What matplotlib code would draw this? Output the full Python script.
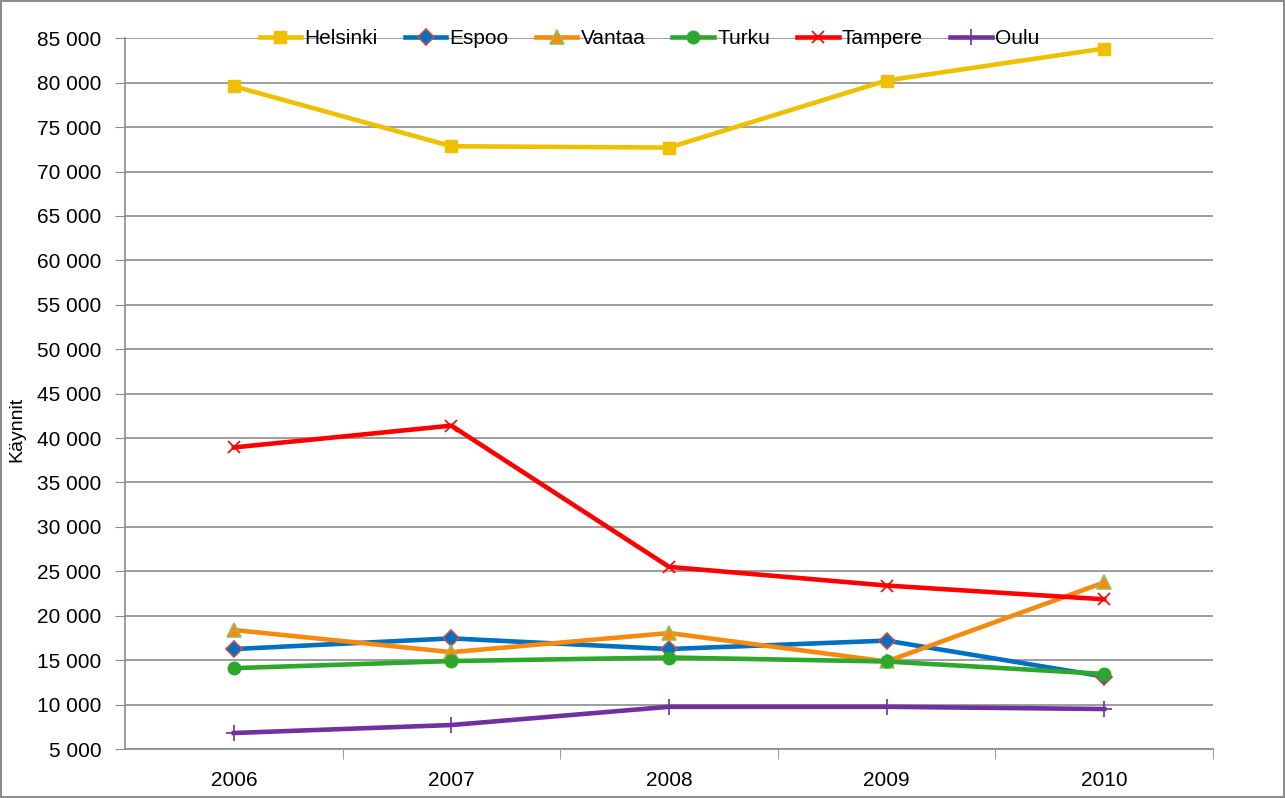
import matplotlib.pyplot as plt
from matplotlib.ticker import FuncFormatter, FixedLocator

plt.rcParams['font.family'] = ['Liberation Sans', 'DejaVu Sans']

years = ["2006", "2007", "2008", "2009", "2010"]
helsinki = [79600, 72850, 72700, 80250, 83850]
espoo = [16250, 17450, 16250, 17200, 13150]
vantaa = [18400, 15900, 18050, 14850, 23750]
turku = [14100, 14900, 15300, 14850, 13450]
tampere = [38950, 41400, 25500, 23400, 21850]
oulu = [6800, 7700, 9750, 9750, 9500]

series = [
    ("Helsinki", helsinki, "#EEC000", "s", "#EEC000", "#EEC000", 9, 1),
    ("Espoo", espoo, "#0070C0", "D", "#0070C0", "#C0504D", 8, 1.2),
    ("Vantaa", vantaa, "#F58A0F", "^", "#F58A0F", "#9BBB59", 10, 1.2),
    ("Turku", turku, "#2DA82D", "o", "#2DA82D", "#2DA82D", 9, 1),
    ("Tampere", tampere, "#FF0000", "x", "#FF0000", "#FF0000", 9, 1.2),
    ("Oulu", oulu, "#7030A0", "+", "#7030A0", "#7030A0", 11, 1.2),
]

fig = plt.figure(figsize=(12.85, 7.98), dpi=100)
fig.patch.set_edgecolor("#8C8C8C")
fig.patch.set_linewidth(1.5)
ax = fig.add_axes([0.0973, 0.0614, 0.8467, 0.8906])

x = range(len(years))
for name, vals, col, mk, fc, ec, ms, mew in series:
    ax.plot(x, vals, color=col, lw=3.3, marker=mk, markerfacecolor=fc,
            markeredgecolor=ec, markersize=ms, markeredgewidth=mew,
            label=name, zorder=3)

ax.set_xlim(-0.5, 4.5)
ax.set_ylim(5000, 85000)
ax.set_yticks(range(5000, 85001, 5000))
ax.yaxis.set_major_formatter(FuncFormatter(lambda v, p: f"{int(v):,}".replace(",", " ")))
ax.set_xticks(list(x))
ax.set_xticklabels(years)
ax.xaxis.set_minor_locator(FixedLocator([0.5, 1.5, 2.5, 3.5, 4.5]))
ax.tick_params(axis="x", which="major", length=0, labelsize=15, pad=16)
ax.tick_params(axis="x", which="minor", length=7, color="#8C8C8C", direction="out")
ax.tick_params(axis="y", length=7, color="#8C8C8C", labelsize=15, pad=10)

ax.grid(axis="y", color="#8C8C8C", lw=1.2)
ax.set_axisbelow(True)
for s in ["top", "right"]:
    ax.spines[s].set_visible(False)
for s in ["left", "bottom"]:
    ax.spines[s].set_color("#8C8C8C")
    ax.spines[s].set_linewidth(1.2)

ax.set_ylabel("Käynnit", fontsize=14)
ax.yaxis.set_label_coords(-0.092, 0.45)

ax.legend(loc="center", bbox_to_anchor=(0.482, 1.0), ncol=6, frameon=False,
          fontsize=15, handlelength=2.0, handletextpad=0.15, columnspacing=1.3)

fig.savefig("out.png", dpi=100)
